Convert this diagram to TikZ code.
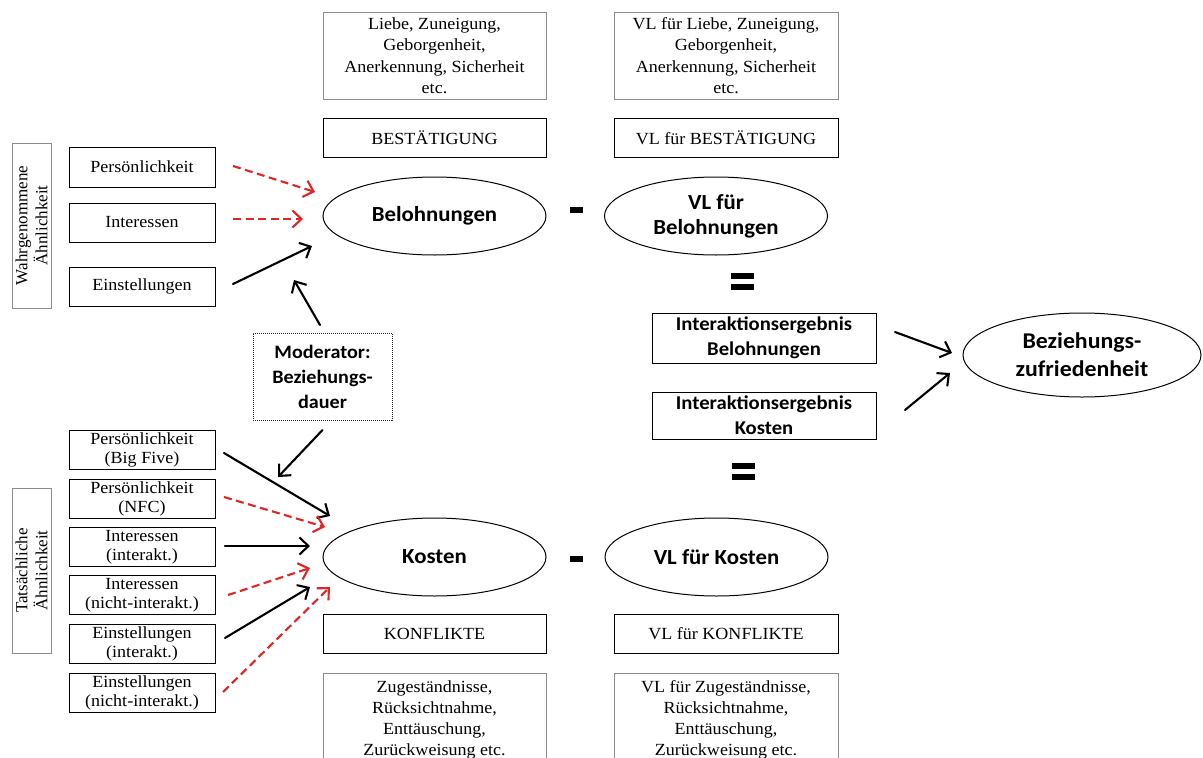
\documentclass[tikz,border=0pt]{standalone}
\usepackage{fontspec}
\setmainfont{Liberation Serif}[FakeStretch=1.06]
\newfontfamily\upfont{Liberation Serif}
\newfontfamily\calfont{Carlito}[FakeStretch=1.06]
\usetikzlibrary{arrows.meta,calc,shapes.geometric}
\definecolor{dred}{RGB}{226,36,36}
\definecolor{lgray}{RGB}{140,140,140}

\tikzset{
  txt/.style={inner sep=0pt, outer sep=0pt, align=center,
    font=\fontsize{17}{20}\selectfont},
  box/.style={txt, draw=black, line width=1pt,
    minimum width=146pt, minimum height=39pt},
  tall/.style={txt, draw=lgray, line width=1pt, rotate=90,
    minimum width=165pt, minimum height=39pt,
    font=\upfont\fontsize{17}{20}\selectfont},
  wide/.style={box, minimum width=223pt},
  ell/.style={ellipse, draw=black, line width=1pt, inner sep=0pt, outer sep=0pt,
    minimum width=223pt, minimum height=78pt, align=center,
    font=\calfont\bfseries\fontsize{21.5}{25}\selectfont},
  boldbox/.style={box, minimum width=224pt,
    font=\calfont\bfseries\fontsize{19.5}{25}\selectfont},
  arr/.style={line width=2.1pt, line cap=round,
    -{Straight Barb[length=9pt,width=17pt,line width=2.1pt]}},
  rarr/.style={arr, draw=dred, line cap=butt, dash pattern=on 8pt off 4.5pt},
  bar/.style={fill=black}
}

\begin{document}
\begin{tikzpicture}[x=1pt,y=-1pt]
\useasboundingbox (0,0) rectangle (1203,758);
\fill[white] (0,0) rectangle (1203,758);
\clip (0,0) rectangle (1203,758);

% rewards column
\node[wide, draw=lgray, minimum height=87pt, font=\fontsize{17}{21.5}\selectfont] (lz) at (434.5,55.5)
  {Liebe, Zuneigung,\\Geborgenheit,\\Anerkennung, Sicherheit\\etc.};
\node[wide, minimum width=224pt, draw=lgray, minimum height=87pt, font=\fontsize{17}{21.5}\selectfont] (vlz) at (726,55.5)
  {VL für Liebe, Zuneigung,\\Geborgenheit,\\Anerkennung, Sicherheit\\etc.};
\node[wide] (best) at (434.5,137.5) {BESTÄTIGUNG};
\node[wide, minimum width=224pt] (vlbest) at (726,137.5) {VL für BESTÄTIGUNG};

\node[ell] (bel) at (434.5,216) {Belohnungen};
\node[ell] (vlbel) at (716,216) {VL für\\Belohnungen};
\fill[bar] (570,207) rectangle (583,213);
\fill[bar] (731,273) rectangle (754,278.5);
\fill[bar] (731,284) rectangle (754,290);

% costs column
\node[ell] (kos) at (434.5,557) {Kosten};
\node[ell] (vlkos) at (716.5,557) {VL für Kosten};
\fill[bar] (570,556) rectangle (583,562);
\fill[bar] (732,463) rectangle (755,468.5);
\fill[bar] (732,474) rectangle (755,480);

\node[wide] (konf) at (434.5,634) {KONFLIKTE};
\node[wide, minimum width=224pt] (vlkonf) at (726,634) {VL für KONFLIKTE};
\node[wide, draw=lgray, minimum height=93pt, font=\fontsize{17}{21}\selectfont] (zug) at (434.5,719.5)
  {Zugeständnisse,\\Rücksichtnahme,\\Enttäuschung,\\Zurückweisung etc.};
\node[wide, minimum width=224pt, draw=lgray, minimum height=93pt, font=\fontsize{17}{21}\selectfont] (vlzug) at (726,719.5)
  {VL für Zugeständnisse,\\Rücksichtnahme,\\Enttäuschung,\\Zurückweisung etc.};

% interaction results and satisfaction
\node[boldbox, minimum height=50pt] (ib) at (764,338) {Interaktionsergebnis\\Belohnungen};
\node[boldbox, minimum height=47pt] (ik) at (764,415.5) {Interaktionsergebnis\\Kosten};
\node[ell, minimum width=238pt, minimum height=84pt, font=\calfont\bfseries\fontsize{22.5}{28}\selectfont]
  (bz) at (1082,355) {Beziehungs-\\zufriedenheit};

% perceived similarity
\node[tall] (wahr) at (31.5,225.5) {Wahrgenommene\\Ähnlichkeit};
\node[box, minimum height=40pt] (p1) at (142,167) {Persönlichkeit};
\node[box] (p2) at (142,222.5) {Interessen};
\node[box] (p3) at (142,286.5) {Einstellungen};

% moderator
\node[txt, draw=black!85, line width=0.9pt, dash pattern=on 1pt off 1pt,
  minimum width=139pt, minimum height=87pt,
  font=\calfont\bfseries\fontsize{19}{25}\selectfont] (mod) at (322.5,376.5)
  {Moderator:\\Beziehungs-\\dauer};

% actual similarity
\node[tall] (tats) at (31.5,570.5) {Tatsächliche\\Ähnlichkeit};
\node[box, font=\fontsize{17}{19}\selectfont] (q1) at (142,449.5) {Persönlichkeit\\(Big Five)};
\node[box, font=\fontsize{17}{19}\selectfont] (q2) at (142,498.5) {Persönlichkeit\\(NFC)};
\node[box, font=\fontsize{17}{19}\selectfont] (q3) at (142,547) {Interessen\\(interakt.)};
\node[box, font=\fontsize{17}{19}\selectfont] (q4) at (142,595) {Interessen\\(nicht-interakt.)};
\node[box, font=\fontsize{17}{19}\selectfont] (q5) at (142,643.5) {Einstellungen\\(interakt.)};
\node[box, font=\fontsize{17}{19}\selectfont] (q6) at (142,692.5) {Einstellungen\\(nicht-interakt.)};

% arrows into rewards
\draw[rarr] ($(p1.east)+(18,-1)$) -- ($(bel.west)+(-8,-24)$);
\draw[rarr] ($(p2.east)+(18,-3.5)$) -- ($(bel.west)+(-20,3)$);
\draw[arr] ($(p3.east)+(18,-2.5)$) -- ($(bel.west)+(-11,30)$);
\draw[arr] ($(mod.north)+(-2.5,-8)$) -- ($(bel.west)+(-29,64)$);

% arrows into costs
\draw[arr] ($(mod.south)+(0,10)$) -- ($(kos.west)+(-45,-80)$);
\draw[arr] ($(q1.east)+(9,3.5)$) -- ($(kos.west)+(7,-41)$);
\draw[rarr] ($(q2.east)+(9,-1.5)$) -- ($(kos.west)+(2,-30)$);
\draw[arr] ($(q3.east)+(10,-1)$) -- ($(kos.west)+(-13,-11)$);
\draw[rarr] ($(q4.east)+(13,0)$) -- ($(kos.west)+(-13,11)$);
\draw[arr] ($(q5.east)+(10,-5.5)$) -- ($(kos.west)+(-13,30)$);
\draw[rarr] ($(q6.east)+(8,-0.5)$) -- ($(kos.west)+(7,30)$);

% arrows into satisfaction
\draw[arr] ($(ib.east)+(19,-6)$) -- ($(bz.west)+(-11,-2)$);
\draw[arr] ($(ik.east)+(29,-5.5)$) -- ($(bz.west)+(-13,18)$);
\end{tikzpicture}
\end{document}
